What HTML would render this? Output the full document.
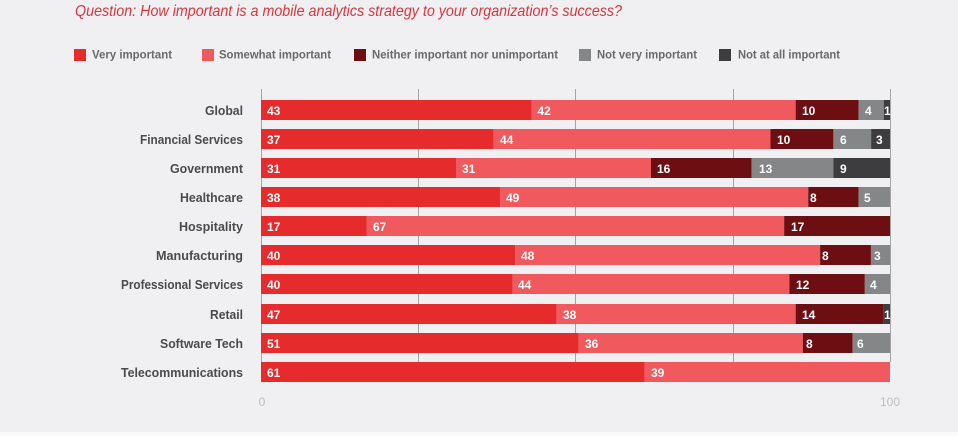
<!DOCTYPE html>
<html>
<head>
<meta charset="utf-8">
<style>
  html,body{margin:0;padding:0;background:#f0f0f2;}
  svg{display:block;}
  text{font-family:"Liberation Sans",sans-serif;}
  .cat{font-size:13px;font-weight:bold;fill:#4b4b4e;text-anchor:end;}
  .val{font-size:12px;font-weight:bold;fill:#ffffff;}
  .leg{font-size:12px;font-weight:bold;fill:#6a6a6d;}
  .ax{font-size:12px;fill:#bdbdc2;text-anchor:middle;}
</style>
</head>
<body>
<svg width="958" height="436" viewBox="0 0 958 436" xmlns="http://www.w3.org/2000/svg">
  <rect x="0" y="0" width="958" height="436" fill="#f0f0f2"/>
  <rect x="0" y="432" width="958" height="4" fill="#fafafa"/>

  <!-- Title -->
  <text x="75" y="16" font-size="16" font-style="italic" fill="#d9353f" textLength="547" lengthAdjust="spacingAndGlyphs">Question: How important is a mobile analytics strategy to your organization’s success?</text>

  <!-- Legend -->
  <rect x="74" y="49" width="12" height="12" fill="#e52b2c"/>
  <text class="leg" x="92" y="58.5" textLength="80" lengthAdjust="spacingAndGlyphs">Very important</text>
  <rect x="202" y="49" width="12" height="12" fill="#f05a5e"/>
  <text class="leg" x="219" y="58.5" textLength="112" lengthAdjust="spacingAndGlyphs">Somewhat important</text>
  <rect x="354" y="49" width="12" height="12" fill="#6d0f12"/>
  <text class="leg" x="372" y="58.5" textLength="186" lengthAdjust="spacingAndGlyphs">Neither important nor unimportant</text>
  <rect x="579" y="49" width="12" height="12" fill="#858688"/>
  <text class="leg" x="597" y="58.5" textLength="100" lengthAdjust="spacingAndGlyphs">Not very important</text>
  <rect x="719" y="49" width="12" height="12" fill="#3d3d40"/>
  <text class="leg" x="738" y="58.5" textLength="102" lengthAdjust="spacingAndGlyphs">Not at all important</text>

  <!-- Gridlines -->
  <g stroke="#a3a3a6" stroke-width="1">
    <line x1="261.5" y1="89" x2="261.5" y2="382"/>
    <line x1="418.5" y1="89" x2="418.5" y2="362"/>
    <line x1="575.5" y1="89" x2="575.5" y2="362"/>
    <line x1="733.5" y1="89" x2="733.5" y2="362"/>
    <line x1="890.5" y1="89" x2="890.5" y2="362"/>
  </g>

  <!-- Category labels -->
  <text class="cat" x="243" y="115" textLength="38" lengthAdjust="spacingAndGlyphs">Global</text>
  <text class="cat" x="243" y="144" textLength="103" lengthAdjust="spacingAndGlyphs">Financial Services</text>
  <text class="cat" x="243" y="173" textLength="73" lengthAdjust="spacingAndGlyphs">Government</text>
  <text class="cat" x="243" y="202" textLength="63" lengthAdjust="spacingAndGlyphs">Healthcare</text>
  <text class="cat" x="243" y="231" textLength="64" lengthAdjust="spacingAndGlyphs">Hospitality</text>
  <text class="cat" x="243" y="260" textLength="87" lengthAdjust="spacingAndGlyphs">Manufacturing</text>
  <text class="cat" x="243" y="289" textLength="122" lengthAdjust="spacingAndGlyphs">Professional Services</text>
  <text class="cat" x="243" y="319" textLength="33" lengthAdjust="spacingAndGlyphs">Retail</text>
  <text class="cat" x="243" y="348" textLength="83" lengthAdjust="spacingAndGlyphs">Software Tech</text>
  <text class="cat" x="243" y="377" textLength="122" lengthAdjust="spacingAndGlyphs">Telecommunications</text>

  <!-- Global y=100 -->
  <rect x="261" y="100" width="270.47" height="20" fill="#e52b2c"/>
  <rect x="531.47" y="100" width="264.18" height="20" fill="#f05a5e"/>
  <rect x="795.65" y="100" width="62.9" height="20" fill="#6d0f12"/>
  <rect x="858.55" y="100" width="25.16" height="20" fill="#858688"/>
  <rect x="883.71" y="100" width="6.29" height="20" fill="#3d3d40"/>
  <text class="val" x="267" y="115">43</text>
  <text class="val" x="537.5" y="115">42</text>
  <text class="val" x="802" y="115">10</text>
  <text class="val" x="865" y="115">4</text>
  <text class="val" x="884" y="115">1</text>

  <!-- Financial y=129 -->
  <rect x="261" y="129" width="232.73" height="20" fill="#e52b2c"/>
  <rect x="493.73" y="129" width="276.76" height="20" fill="#f05a5e"/>
  <rect x="770.49" y="129" width="62.9" height="20" fill="#6d0f12"/>
  <rect x="833.39" y="129" width="37.74" height="20" fill="#858688"/>
  <rect x="871.13" y="129" width="18.87" height="20" fill="#3d3d40"/>
  <text class="val" x="267" y="144">37</text>
  <text class="val" x="500" y="144">44</text>
  <text class="val" x="777" y="144">10</text>
  <text class="val" x="840" y="144">6</text>
  <text class="val" x="876" y="144">3</text>

  <!-- Government y=158 -->
  <rect x="261" y="158" width="194.99" height="20" fill="#e52b2c"/>
  <rect x="455.99" y="158" width="194.99" height="20" fill="#f05a5e"/>
  <rect x="650.98" y="158" width="100.64" height="20" fill="#6d0f12"/>
  <rect x="751.62" y="158" width="81.77" height="20" fill="#858688"/>
  <rect x="833.39" y="158" width="56.61" height="20" fill="#3d3d40"/>
  <text class="val" x="267" y="173">31</text>
  <text class="val" x="462" y="173">31</text>
  <text class="val" x="657" y="173">16</text>
  <text class="val" x="759" y="173">13</text>
  <text class="val" x="840" y="173">9</text>

  <!-- Healthcare y=187 -->
  <rect x="261" y="187" width="239.02" height="20" fill="#e52b2c"/>
  <rect x="500.02" y="187" width="308.21" height="20" fill="#f05a5e"/>
  <rect x="808.23" y="187" width="50.32" height="20" fill="#6d0f12"/>
  <rect x="858.55" y="187" width="31.45" height="20" fill="#858688"/>
  <text class="val" x="267" y="202">38</text>
  <text class="val" x="506" y="202">49</text>
  <text class="val" x="810" y="202">8</text>
  <text class="val" x="864" y="202">5</text>

  <!-- Hospitality y=216 -->
  <rect x="261" y="216" width="105.87" height="20" fill="#e52b2c"/>
  <rect x="366.87" y="216" width="417.26" height="20" fill="#f05a5e"/>
  <rect x="784.13" y="216" width="105.87" height="20" fill="#6d0f12"/>
  <text class="val" x="267" y="231">17</text>
  <text class="val" x="373" y="231">67</text>
  <text class="val" x="791" y="231">17</text>

  <!-- Manufacturing y=245 -->
  <rect x="261" y="245" width="254.14" height="20" fill="#e52b2c"/>
  <rect x="515.14" y="245" width="304.97" height="20" fill="#f05a5e"/>
  <rect x="820.11" y="245" width="50.83" height="20" fill="#6d0f12"/>
  <rect x="870.94" y="245" width="19.06" height="20" fill="#858688"/>
  <text class="val" x="267" y="260">40</text>
  <text class="val" x="521" y="260">48</text>
  <text class="val" x="822" y="260">8</text>
  <text class="val" x="874" y="260">3</text>

  <!-- Professional y=274 -->
  <rect x="261" y="274" width="251.6" height="20" fill="#e52b2c"/>
  <rect x="512.6" y="274" width="276.76" height="20" fill="#f05a5e"/>
  <rect x="789.36" y="274" width="75.48" height="20" fill="#6d0f12"/>
  <rect x="864.84" y="274" width="25.16" height="20" fill="#858688"/>
  <text class="val" x="267" y="289">40</text>
  <text class="val" x="518" y="289">44</text>
  <text class="val" x="796" y="289">12</text>
  <text class="val" x="870" y="289">4</text>

  <!-- Retail y=304 -->
  <rect x="261" y="304" width="295.63" height="20" fill="#e52b2c"/>
  <rect x="556.63" y="304" width="239.02" height="20" fill="#f05a5e"/>
  <rect x="795.65" y="304" width="88.06" height="20" fill="#6d0f12"/>
  <rect x="883.71" y="304" width="6.29" height="20" fill="#3d3d40"/>
  <text class="val" x="267" y="319">47</text>
  <text class="val" x="563" y="319">38</text>
  <text class="val" x="802" y="319">14</text>
  <text class="val" x="884" y="319">1</text>

  <!-- Software y=333 -->
  <rect x="261" y="333" width="317.61" height="20" fill="#e52b2c"/>
  <rect x="578.61" y="333" width="224.2" height="20" fill="#f05a5e"/>
  <rect x="802.81" y="333" width="49.82" height="20" fill="#6d0f12"/>
  <rect x="852.63" y="333" width="37.37" height="20" fill="#858688"/>
  <text class="val" x="267" y="348">51</text>
  <text class="val" x="585" y="348">36</text>
  <text class="val" x="806" y="348">8</text>
  <text class="val" x="857" y="348">6</text>

  <!-- Telecom y=362 -->
  <rect x="261" y="362" width="383.69" height="20" fill="#e52b2c"/>
  <rect x="644.69" y="362" width="245.31" height="20" fill="#f05a5e"/>
  <text class="val" x="267" y="377">61</text>
  <text class="val" x="651" y="377">39</text>

  <!-- Axis labels -->
  <text class="ax" x="262" y="406">0</text>
  <text class="ax" x="890" y="406">100</text>
</svg>
</body>
</html>
